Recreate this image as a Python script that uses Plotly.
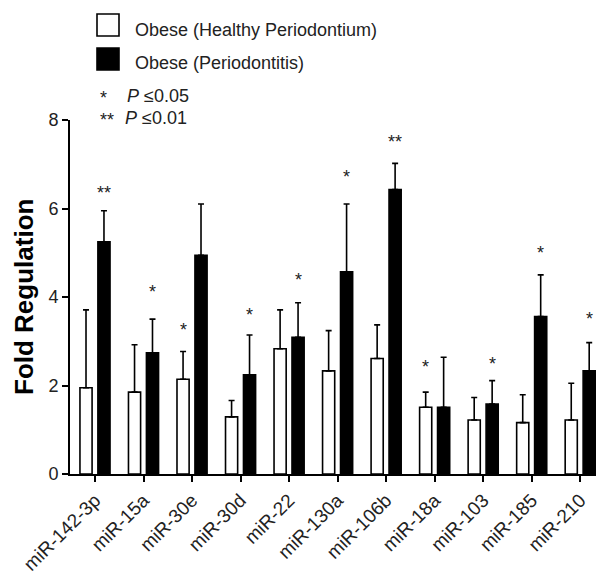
import plotly.graph_objects as go

categories = ["miR-142-3p", "miR-15a", "miR-30e", "miR-30d", "miR-22", "miR-130a",
              "miR-106b", "miR-18a", "miR-103", "miR-185", "miR-210"]
healthy = [1.95, 1.85, 2.14, 1.29, 2.83, 2.33, 2.61, 1.51, 1.22, 1.16, 1.22]
healthy_err = [1.76, 1.07, 0.63, 0.37, 0.88, 0.91, 0.76, 0.34, 0.51, 0.63, 0.83]
perio = [5.25, 2.74, 4.94, 2.24, 3.09, 4.57, 6.43, 1.51, 1.58, 3.56, 2.33]
perio_err = [0.70, 0.76, 1.16, 0.90, 0.78, 1.53, 0.59, 1.13, 0.53, 0.94, 0.64]
# significance marks: (category index, group, label, y position)
sig_marks = [(0, "perio", "**", 6.46), (1, "perio", "*", 4.23), (2, "healthy", "*", 3.37),
             (3, "perio", "*", 3.71), (4, "perio", "*", 4.50), (5, "perio", "*", 6.83),
             (6, "perio", "**", 7.62), (7, "healthy", "*", 2.52), (8, "perio", "*", 2.61),
             (9, "perio", "*", 5.10), (10, "perio", "*", 3.61)]
legend_names = ["Obese (Healthy Periodontium)", "Obese (Periodontitis)"]
yticks = [0, 2, 4, 6, 8]

FONT = "Liberation Sans, Arial, sans-serif"
PAGE = 8  # default body margin of the html page
W, H = 604 - PAGE, 575 - PAGE
L, R, T, B = 70 - PAGE, 0, 120 - PAGE, 101
BW = 0.25
OFF_H, OFF_P = -0.31, 0.06

xs = list(range(len(categories)))

fig = go.Figure()
fig.add_trace(go.Bar(
    x=xs, y=healthy, width=BW, offset=OFF_H,
    marker=dict(color="white", line=dict(color="black", width=1.6)),
    error_y=dict(type="data", array=healthy_err, arrayminus=[0] * len(healthy),
                 symmetric=False, color="black", thickness=1.6, width=3),
    name=legend_names[0], showlegend=False))
fig.add_trace(go.Bar(
    x=xs, y=perio, width=BW, offset=OFF_P,
    marker=dict(color="black", line=dict(color="black", width=1.6)),
    error_y=dict(type="data", array=perio_err, arrayminus=[0] * len(perio),
                 symmetric=False, color="black", thickness=1.6, width=3),
    name=legend_names[1], showlegend=False))

annotations = []
for idx, grp, lab, yv in sig_marks:
    xc = idx + (OFF_H + BW / 2 if grp == "healthy" else OFF_P + BW / 2)
    annotations.append(dict(x=xc, y=yv, xref="x", yref="y", text=lab, showarrow=False,
                            font=dict(family=FONT, size=18, color="#222"),
                            xanchor="center", yanchor="middle", yshift=-5))


# positions below are given in page pixels of the 604x575 picture
def px_x(p):
    return (p - PAGE - L) / (W - L - R)


def px_y(p):
    return (H - B - (p - PAGE)) / (H - T - B)


# legend boxes
shapes = [
    dict(type="rect", xref="paper", yref="paper", x0=px_x(97), x1=px_x(119),
         y0=px_y(36), y1=px_y(14), fillcolor="white", line=dict(color="black", width=1.6)),
    dict(type="rect", xref="paper", yref="paper", x0=px_x(97), x1=px_x(119),
         y0=px_y(70), y1=px_y(48), fillcolor="black", line=dict(color="black", width=1.6)),
]
leg_font = dict(family=FONT, size=18, color="#222")
annotations += [
    dict(x=px_x(133), y=px_y(30), xref="paper", yref="paper", text=legend_names[0],
         showarrow=False, xanchor="left", yanchor="middle", font=leg_font),
    dict(x=px_x(133), y=px_y(63), xref="paper", yref="paper", text=legend_names[1],
         showarrow=False, xanchor="left", yanchor="middle", font=leg_font),
    dict(x=px_x(98), y=px_y(98), xref="paper", yref="paper", text="*",
         showarrow=False, xanchor="left", yanchor="middle", font=leg_font),
    dict(x=px_x(125), y=px_y(96), xref="paper", yref="paper", text="<i>P</i> ≤0.05",
         showarrow=False, xanchor="left", yanchor="middle", font=leg_font),
    dict(x=px_x(98), y=px_y(120), xref="paper", yref="paper", text="**",
         showarrow=False, xanchor="left", yanchor="middle", font=leg_font),
    dict(x=px_x(123), y=px_y(118), xref="paper", yref="paper", text="<i>P</i> ≤0.01",
         showarrow=False, xanchor="left", yanchor="middle", font=leg_font),
    dict(x=px_x(24), y=0.5, xref="paper", yref="paper", text="<b>Fold Regulation</b>",
         showarrow=False, xanchor="center", yanchor="middle", textangle=-90,
         font=dict(family=FONT, size=26, color="black")),
]

fig.update_layout(
    width=W, height=H,
    margin=dict(l=L, r=R, t=T, b=B, pad=0, autoexpand=False),
    paper_bgcolor="white", plot_bgcolor="white",
    barmode="overlay",
    showlegend=False,
    font=dict(family=FONT, color="#222"),
    xaxis=dict(range=[-0.515, 10.49], tickmode="array", tickvals=xs, ticktext=categories,
               tickangle=-45, ticks="outside", ticklen=6, tickwidth=1.5, tickcolor="black",
               showline=True, linecolor="black", linewidth=1.6, showgrid=False,
               zeroline=False, automargin=False,
               tickfont=dict(family=FONT, size=19, color="#222")),
    yaxis=dict(range=[0, 8], tickvals=yticks, ticks="outside", ticklen=6, tickwidth=1.5,
               tickcolor="black", showline=True, linecolor="black", linewidth=1.6,
               showgrid=False, zeroline=False, automargin=False,
               tickfont=dict(family=FONT, size=18, color="#222")),
    shapes=shapes,
    annotations=annotations,
)

fig.write_html("out.html")
